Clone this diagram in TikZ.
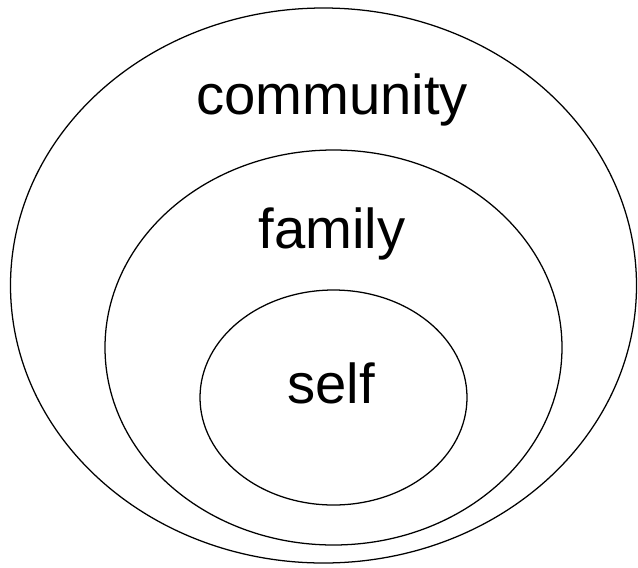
\documentclass[tikz,border=0pt]{standalone}
\usepackage{fontspec}
\setmainfont{Liberation Sans}
\tikzset{ring/.style={line width=0.9pt}, lbl/.style={font=\fontsize{40}{48}\selectfont}}
\begin{document}
\begin{tikzpicture}[x=0.025cm, y=-0.025cm]
            \useasboundingbox (0,0) rectangle (638,567);
            % community (outer)
            \draw[ring] (323.5,285.5) ellipse (313 and 277.5);
            % family (middle)
            \draw[ring] (333.5,347.5) ellipse (228.5 and 197.5);
            % self (inner)
            \draw[ring] (333.5,397.5) ellipse (133.5 and 107.5);
            \node[lbl] (community) at (332,100) {community};
            \node[lbl] (family) at (332,234) {family};
            \node[lbl] (self) at (331,383) {self};
        \end{tikzpicture}
\end{document}
